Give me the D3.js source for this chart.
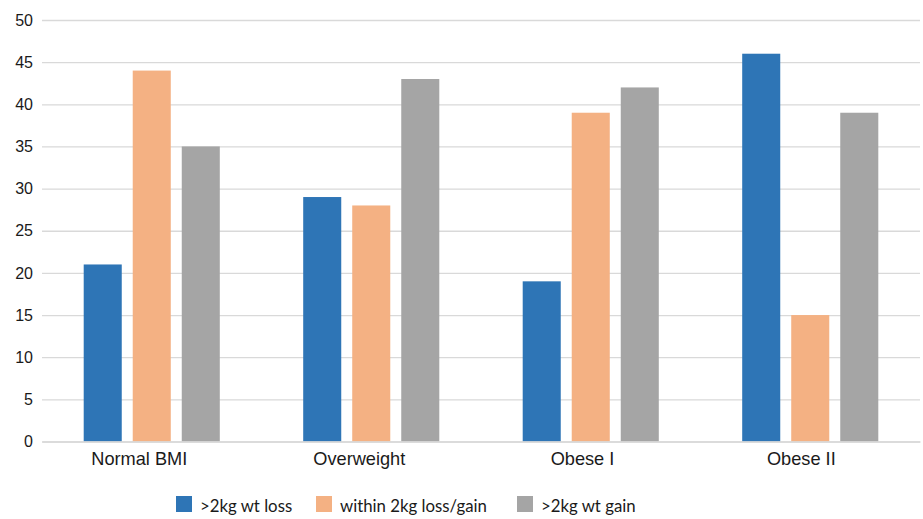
<!DOCTYPE html>
<html>
<head>
<meta charset="utf-8">
<script src="https://cdn.jsdelivr.net/npm/d3@7"></script>
<style>
  html, body { margin: 0; padding: 0; background: #fff; }
  svg { display: block; font-family: Lato, "Open Sans", sans-serif; }
</style>
</head>
<body>
<svg id="chart" width="923" height="519"></svg>
<script>
// BMI groups and share of each weight-change outcome
const categories = ["Normal BMI", "Overweight", "Obese I", "Obese II"];
const seriesNames = [">2kg wt loss", "within 2kg loss/gain", ">2kg wt gain"];
const lossValues = [21, 29, 19, 46];
const stableValues = [44, 28, 39, 15];
const gainValues = [35, 43, 42, 39];
const yTicks = [0, 5, 10, 15, 20, 25, 30, 35, 40, 45, 50];
const colors = ["#2E75B6", "#F4B183", "#A5A5A5"];

const series = [lossValues, stableValues, gainValues];

const svg = d3.select("#chart");
const margin = { left: 42, right: 3, top: 20, bottom: 77 };
const W = 923, H = 519;

const x0 = d3.scaleBand()
  .domain(categories)
  .range([margin.left, W - margin.right])
  .paddingInner(0.38)
  .paddingOuter(0.19);

const x1 = d3.scaleBand()
  .domain(seriesNames)
  .range([0, x0.bandwidth()])
  .paddingInner(0.224);

const y = d3.scaleLinear()
  .domain([0, 50])
  .range([H - margin.bottom - 0.5, margin.top]);

// gridlines
const yAxis = d3.axisLeft(y).tickValues(yTicks).tickSize(-(W - margin.left - margin.right)).tickPadding(9);
const gy = svg.append("g").attr("transform", `translate(${margin.left},0)`).call(yAxis);
gy.select(".domain").remove();
gy.selectAll(".tick line").attr("stroke", "#D9D9D9").attr("stroke-width", 1.3);
gy.selectAll(".tick text").attr("fill", "#1a1a1a").style("font-size", "16px");

// bars
categories.forEach((cat, ci) => {
  const g = svg.append("g").attr("transform", `translate(${x0(cat)},0)`);
  g.selectAll("rect")
    .data(seriesNames.map((s, si) => ({ s, v: series[si][ci], c: colors[si] })))
    .join("rect")
    .attr("x", d => x1(d.s))
    .attr("width", x1.bandwidth())
    .attr("y", d => y(d.v))
    .attr("height", d => y(0) - y(d.v))
    .attr("fill", d => d.c);
});

// category axis; labels sit slightly left of the group centre
const xAxis = d3.axisBottom(x0).tickSize(0).tickPadding(11);
const gx = svg.append("g").attr("transform", `translate(0,${y(0)})`).call(xAxis);
gx.select(".domain").attr("stroke", "#D9D9D9").attr("stroke-width", 1.3);
gx.selectAll(".tick text")
  .attr("fill", "#1a1a1a")
  .style("font-size", "18.2px")
  .attr("text-anchor", "start")
  .attr("x", function () { return -0.63 * this.getComputedTextLength(); });

// legend
const legendX = [176, 316, 517];
const legend = svg.append("g");
seriesNames.forEach((name, i) => {
  legend.append("rect")
    .attr("x", legendX[i]).attr("y", 496)
    .attr("width", 16).attr("height", 16)
    .attr("fill", colors[i]);
  legend.append("text")
    .attr("x", legendX[i] + 24).attr("y", 511.5)
    .attr("fill", "#1a1a1a")
    .style("font-size", "16.8px")
    .text(name);
});
</script>
</body>
</html>
